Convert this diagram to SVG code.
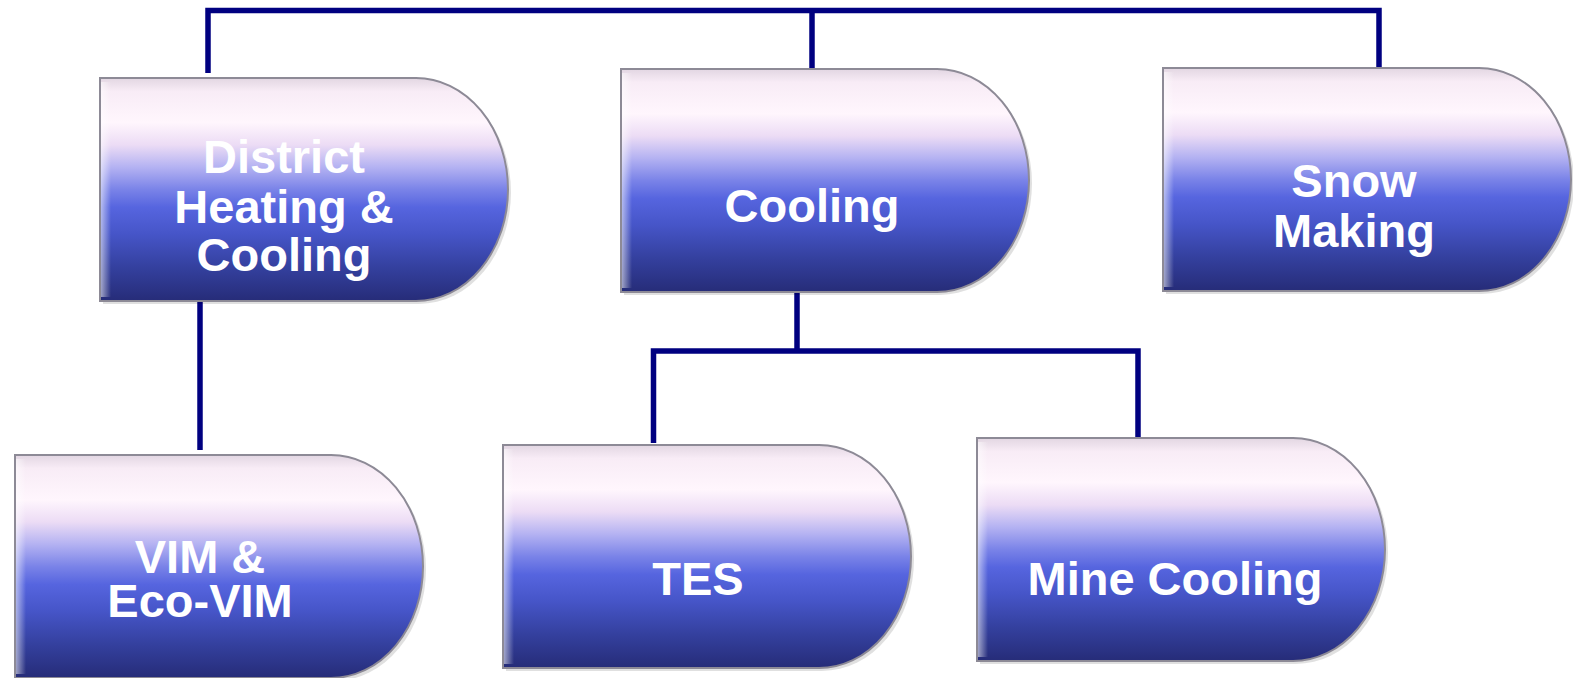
<svg xmlns="http://www.w3.org/2000/svg" width="1573" height="678" viewBox="0 0 1573 678">
  <defs>
    <linearGradient id="fillGrad" x1="0" y1="0" x2="0" y2="1">
      <stop offset="0" stop-color="#e2d6e2"/>
      <stop offset="0.06" stop-color="#f8ecf6"/>
      <stop offset="0.2" stop-color="#fff6fd"/>
      <stop offset="0.3" stop-color="#ecdcf5"/>
      <stop offset="0.4" stop-color="#b4b2f2"/>
      <stop offset="0.5" stop-color="#7a83e8"/>
      <stop offset="0.58" stop-color="#5665df"/>
      <stop offset="0.7" stop-color="#4655c8"/>
      <stop offset="0.85" stop-color="#34409e"/>
      <stop offset="1" stop-color="#262c78"/>
    </linearGradient>
    <linearGradient id="bevelGrad" x1="0" y1="0" x2="1" y2="0">
      <stop offset="0" stop-color="#ffffff" stop-opacity="0.55"/>
      <stop offset="1" stop-color="#ffffff" stop-opacity="0"/>
    </linearGradient>
    <path id="shape" d="M0,0 H316 A92,111.5 0 0 1 408,111.5 A92,111.5 0 0 1 316,223 H0 Z"/>
    <g id="node">
      <use href="#shape" transform="translate(3,3)" fill="#000" opacity="0.12"/>
      <use href="#shape" fill="url(#fillGrad)" stroke="#8d8a96" stroke-width="2"/>
      <rect x="1" y="4" width="10" height="215" fill="url(#bevelGrad)"/>
    </g>
  </defs>
  <style>
    .lbl { font-family: "Liberation Sans", Arial, sans-serif; font-weight: bold; font-size: 47px; fill: #ffffff; text-anchor: middle; }
    .conn { fill: none; stroke: #000080; stroke-width: 5.5; stroke-linejoin: miter; }
  </style>
  <rect width="1573" height="678" fill="#ffffff"/>

  <g id="connectors">
    <polyline class="conn" points="208,73 208,10.5 1379,10.5 1379,71"/>
    <line class="conn" x1="812" y1="10.5" x2="812" y2="70"/>
    <line class="conn" x1="200" y1="300" x2="200" y2="450"/>
    <line class="conn" x1="797" y1="292" x2="797" y2="351"/>
    <polyline class="conn" points="653.5,443 653.5,351 1138,351 1138,442"/>
  </g>

  <g id="node-district">
    <use href="#node" transform="translate(100,78)"/>
    <text class="lbl" x="284" y="173">District</text>
    <text class="lbl" x="284" y="223">Heating &amp;</text>
    <text class="lbl" x="284" y="271">Cooling</text>
  </g>
  <g id="node-cooling">
    <use href="#node" transform="translate(621,69)"/>
    <text class="lbl" x="812" y="222">Cooling</text>
  </g>
  <g id="node-snow">
    <use href="#node" transform="translate(1163,68)"/>
    <text class="lbl" x="1354" y="197">Snow</text>
    <text class="lbl" x="1354" y="247">Making</text>
  </g>
  <g id="node-vim">
    <use href="#node" transform="translate(15,455)"/>
    <text class="lbl" x="200" y="573">VIM &amp;</text>
    <text class="lbl" x="200" y="617">Eco-VIM</text>
  </g>
  <g id="node-tes">
    <use href="#node" transform="translate(503,445)"/>
    <text class="lbl" x="698" y="595">TES</text>
  </g>
  <g id="node-mine">
    <use href="#node" transform="translate(977,438)"/>
    <text class="lbl" x="1175" y="595">Mine Cooling</text>
  </g>
</svg>
